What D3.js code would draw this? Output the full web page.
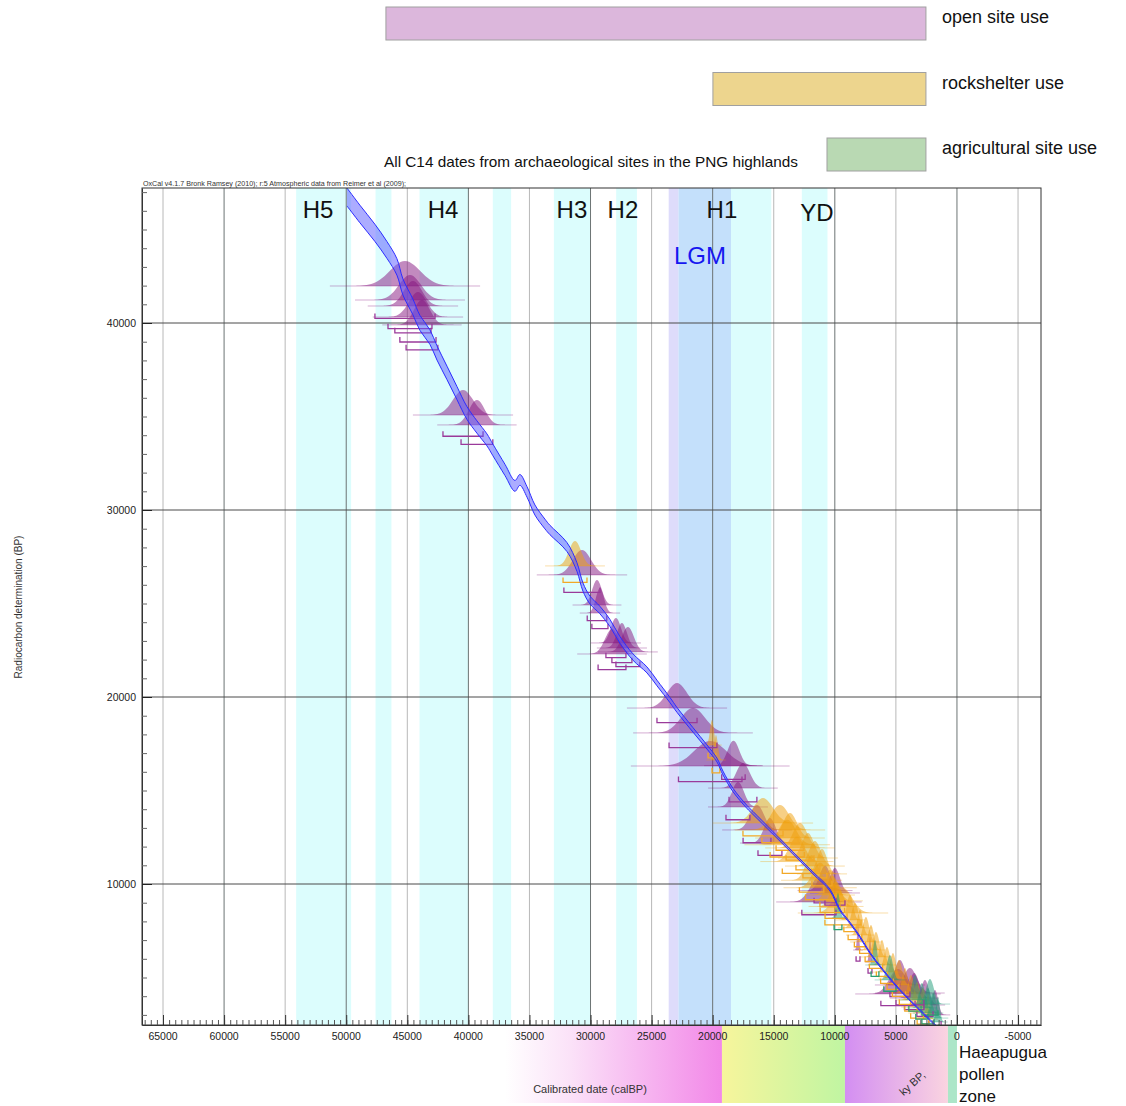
<!DOCTYPE html>
<html>
<head>
<meta charset="utf-8">
<script src="https://cdn.jsdelivr.net/npm/d3@7"></script>
<style>
  body { margin: 0; background: #fff; }
  svg { display: block; font-family: "Liberation Sans", Arial, sans-serif; }
</style>
</head>
<body>
<svg id="chart" width="1126" height="1106"></svg>
<script>
// calibration curve (cal BP, 14C BP, +/- error)
var curveCal = [49940, 48880, 47650, 46670, 45850, 45360, 44540, 43960, 43150, 42570, 41750, 40940, 40120, 39300, 38480, 37990, 37000, 36190, 35780, 35200, 34550, 33730, 33320, 31930, 31110, 30620, 30050, 29230, 28410, 27590, 26530, 25380, 24560, 23500, 22920, 21610, 20470, 19650, 19160, 18340, 17190, 16700, 15060, 13430, 11790, 10400, 9580, 8760, 7940, 7120, 6060, 4670, 3280, 2210, 1720];
var curveC14 = [46740, 45830, 44820, 43910, 43000, 41930, 40860, 40000, 39250, 38400, 37330, 36260, 35190, 34440, 33750, 33210, 32140, 31290, 31610, 30970, 30000, 29250, 28930, 28020, 26950, 25880, 25190, 24650, 23960, 23050, 22140, 21450, 20750, 19840, 19310, 18240, 17330, 16630, 15940, 15030, 14120, 13800, 12730, 11660, 10590, 9680, 8610, 7920, 7170, 6310, 5400, 4330, 3420, 2730, 2410];
var curveErr = [480, 470, 460, 450, 440, 430, 420, 400, 390, 380, 360, 350, 340, 330, 320, 310, 300, 290, 290, 280, 270, 260, 250, 240, 230, 220, 210, 200, 190, 180, 170, 160, 150, 140, 130, 120, 110, 100, 100, 90, 80, 80, 70, 60, 55, 50, 45, 40, 40, 35, 35, 30, 30, 30, 30];

// dates: [14C BP, error, calibrated centre, calibrated spread]
var openDates = [
  [41980, 1200, 45190, 1230], [41230, 1000, 44780, 900], [40910, 900, 44540, 740],
  [40320, 800, 44130, 740], [39900, 800, 43800, 650],
  [35080, 600, 40440, 820], [34550, 500, 39300, 650],
  [26530, 400, 30700, 740], [24920, 300, 29470, 400], [24490, 300, 29230, 330],
  [22890, 250, 27920, 410], [22620, 250, 27430, 410], [22410, 250, 26940, 490], [22300, 300, 28240, 570],
  [19410, 250, 22920, 820], [18080, 250, 21610, 980], [16310, 300, 20200, 1300], [16330, 200, 18300, 480],
  [15130, 200, 17520, 570], [14120, 150, 17930, 490], [12890, 150, 16370, 570], [12190, 120, 15310, 490],
  [9520, 120, 9990, 410], [9650, 120, 10800, 450], [9040, 150, 11300, 700], [6470, 60, 8100, 80], [5830, 60, 7120, 80],
  [4600, 80, 4670, 410], [4170, 100, 3850, 570], [4120, 90, 4830, 700], [3900, 80, 3500, 400],
  [3530, 70, 2620, 330], [3000, 60, 1800, 250]
];
var rockDates = [
  [27010, 350, 31270, 490], [17430, 150, 20060, 160], [16630, 150, 19730, 160],
  [13260, 150, 15880, 820], [12890, 150, 14490, 740], [12460, 120, 13670, 570], [12100, 120, 13900, 700],
  [11930, 120, 12850, 570], [11390, 100, 12200, 490], [11200, 100, 13100, 600], [10960, 100, 11630, 490],
  [10540, 100, 11050, 410], [10200, 100, 11900, 500], [9800, 100, 11200, 600], [9410, 100, 10400, 410],
  [9100, 100, 10200, 500], [8800, 100, 9900, 450],
  [8450, 100, 9330, 740], [8080, 90, 8760, 250], [7650, 90, 8350, 280], [7270, 90, 7940, 230],
  [6900, 80, 7450, 260], [6470, 80, 7040, 240], [6100, 80, 6630, 270], [5670, 80, 6140, 230],
  [5290, 70, 5730, 260], [4970, 70, 5240, 240], [4600, 70, 4750, 270], [4170, 70, 4260, 230],
  [3800, 60, 3770, 250], [3420, 60, 3270, 260], [3100, 60, 2780, 240], [2780, 60, 2370, 160]
];
var agriDates = [
  [8180, 80, 9740, 160], [5670, 70, 6710, 160], [4870, 70, 5490, 250], [3800, 60, 3440, 250],
  [3580, 60, 2210, 330], [3370, 60, 2870, 250], [3100, 50, 2370, 250], [2830, 50, 1960, 250], [2620, 50, 1560, 160]
];

// climate event bands (cal BP)
var bandFrom = [54100, 47600, 44000, 38000, 33000, 27900, 23600, 22800, 18500, 12700];
var bandTo   = [49600, 46300, 40000, 36500, 30000, 26200, 22800, 18500, 15200, 10600];
var bandKind = ["cyan", "cyan", "cyan", "cyan", "cyan", "cyan", "lav", "lgm", "cyan", "cyan"];
var eventNames = ["H5", "H4", "H3", "H2", "H1", "YD"];
var eventCal   = [52300, 42080, 31520, 27350, 19240, 11460];

// site use periods (cal BP)
var useNames = ["open site use", "rockshelter use", "agricultural site use"];
var useFrom  = [46750, 19980, 10640];
var useTo    = [2540, 2540, 2540];

// Haeapugua pollen zones (cal BP)
var zoneFrom = [37000, 19240, 9170, 740];
var zoneTo   = [19240, 9170, 740, 0];

var xTicks = [65000, 60000, 55000, 50000, 45000, 40000, 35000, 30000, 25000, 20000, 15000, 10000, 5000, 0, -5000];
var yTicks = [10000, 20000, 30000, 40000];

var svg = d3.select("#chart");
var L = 142, R = 1041, T = 188, B = 1025;
var x = d3.scaleLinear().domain([66720, -6880]).range([L, R]);
var y = d3.scaleLinear().domain([2460, 47220]).range([B, T]);

var bandColor = { cyan: "#dcfdfd", lav: "#dedcfb", lgm: "#c4e0fb" };
var typeColor = { open: "#86157f", rock: "#efa00c", agri: "#1d9c78" };
var brColor = { open: "#9a3a9a", rock: "#f2a826", agri: "#2a9f72" };
var useColor = ["#dcb7dc", "#edd58e", "#b9d9b3"];

var defs = svg.append("defs");
defs.append("clipPath").attr("id", "plotclip")
  .append("rect").attr("x", L).attr("y", T).attr("width", R - L).attr("height", B - T);

// ---- legend bars of site use ----
useNames.forEach(function (n, i) {
  var yy = 7 + i * 65.5;
  svg.append("rect")
    .attr("x", x(useFrom[i])).attr("y", yy)
    .attr("width", x(useTo[i]) - x(useFrom[i])).attr("height", 33)
    .attr("fill", useColor[i]).attr("stroke", "#a0a0a0");
  svg.append("text").attr("x", 942).attr("y", yy + 16).attr("font-size", 18)
    .attr("fill", "#111").text(n);
});

svg.append("text").attr("x", 384).attr("y", 167).attr("font-size", 14.5)
  .attr("fill", "#111").attr("textLength", 414).attr("lengthAdjust", "spacingAndGlyphs")
  .text("All C14 dates from archaeological sites in the PNG highlands");

svg.append("text").attr("x", 143).attr("y", 186).attr("font-size", 6.4).attr("fill", "#333")
  .attr("textLength", 263).attr("lengthAdjust", "spacingAndGlyphs")
  .text("OxCal v4.1.7 Bronk Ramsey (2010); r:5 Atmospheric data from Reimer et al (2009);");

var plot = svg.append("g").attr("clip-path", "url(#plotclip)");

// ---- bands ----
plot.selectAll("rect.band")
  .data(bandFrom.map(function (f, i) { return { from: f, to: bandTo[i], kind: bandKind[i] }; }))
  .enter().append("rect").attr("class", "band")
  .attr("x", function (d) { return x(d.from); })
  .attr("width", function (d) { return x(d.to) - x(d.from); })
  .attr("y", T).attr("height", B - T)
  .attr("fill", function (d) { return bandColor[d.kind]; });

// ---- grid ----
plot.selectAll("line.vg").data(xTicks).enter().append("line")
  .attr("x1", function (d) { return x(d); }).attr("x2", function (d) { return x(d); })
  .attr("y1", T).attr("y2", B)
  .attr("stroke", function (d) { return d % 10000 === 0 ? "#6c7474" : "#b8b8b8"; })
  .attr("stroke-width", 1);
plot.selectAll("line.hg").data(yTicks).enter().append("line")
  .attr("x1", L).attr("x2", R)
  .attr("y1", function (d) { return y(d); }).attr("y2", function (d) { return y(d); })
  .attr("stroke", "#4a4a4a").attr("stroke-width", 1);

// event labels
eventNames.forEach(function (n, i) {
  svg.append("text").attr("x", x(eventCal[i])).attr("y", n === "YD" ? 221 : 218)
    .attr("text-anchor", "middle").attr("font-size", 24).attr("fill", "#111").text(n);
});
svg.append("text").attr("x", x(21040)).attr("y", 264).attr("text-anchor", "middle")
  .attr("font-size", 24).attr("fill", "#1616f0").text("LGM");

// ---- date distributions ----
var H = 25;
var zs = d3.range(-4.5, 4.51, 0.15);
var distArea = d3.area()
  .x(function (p) { return x(p.cal); })
  .y0(function (p) { return y(p.c14); })
  .y1(function (p) { return y(p.c14) - H * p.g; });

function drawDates(list, type) {
  var g = plot.append("g");
  list.forEach(function (d) {
    var pts = zs.map(function (z) { return { cal: d[2] + z * d[3], c14: d[0], g: Math.exp(-0.5 * z * z) }; });
    g.append("line")
      .attr("x1", x(d[2] + 5 * d[3])).attr("x2", x(d[2] - 5 * d[3]))
      .attr("y1", y(d[0])).attr("y2", y(d[0]))
      .attr("stroke", typeColor[type]).attr("stroke-opacity", 0.35).attr("stroke-width", 1);
    g.append("path").attr("d", distArea(pts))
      .attr("fill", typeColor[type]).attr("fill-opacity", 0.5);
  });
}
function drawBrackets(list, type) {
  var g = plot.append("g");
  list.forEach(function (d) {
    var by = y(d[0] - d[1]) + 10;
    var x1 = x(d[2] + 2 * d[3]), x2 = x(d[2] - 2 * d[3]);
    g.append("path")
      .attr("d", "M" + x1 + "," + (by - 5) + "V" + by + "H" + x2 + "V" + (by - 5))
      .attr("fill", "none").attr("stroke", brColor[type]).attr("stroke-width", 1.3);
  });
}
drawDates(openDates, "open");
drawDates(rockDates, "rock");
drawDates(agriDates, "agri");
drawBrackets(openDates, "open");
drawBrackets(rockDates, "rock");
drawBrackets(agriDates, "agri");

// ---- calibration curve ----
var curve = curveCal.map(function (c, i) { return { cal: c, c14: curveC14[i], err: curveErr[i] }; });
plot.append("path")
  .attr("d", d3.area()
    .curve(d3.curveCatmullRom)
    .x(function (d) { return x(d.cal); })
    .y0(function (d) { return y(d.c14 - d.err); })
    .y1(function (d) { return y(d.c14 + d.err); })(curve))
  .attr("fill", "#5a5aff").attr("fill-opacity", 0.5);
[-1, 1].forEach(function (s) {
  plot.append("path")
    .attr("d", d3.line()
      .curve(d3.curveCatmullRom)
      .x(function (d) { return x(d.cal); })
      .y(function (d) { return y(d.c14 + s * d.err); })(curve))
    .attr("fill", "none").attr("stroke", "#2c2cff").attr("stroke-width", 1);
});

// ---- frame and axes ----
svg.append("rect").attr("x", L).attr("y", T).attr("width", R - L).attr("height", B - T)
  .attr("fill", "none").attr("stroke", "#333");

var xMinor = d3.range(66500, -6880, -500);
svg.append("g").attr("transform", "translate(0," + B + ")")
  .call(d3.axisBottom(x).tickValues(xMinor).tickSize(-5).tickSizeOuter(0).tickFormat(""))
  .call(function (g) { g.selectAll("line").attr("stroke", "#555"); g.select(".domain").attr("stroke", "#333"); });
svg.append("g").attr("transform", "translate(0," + B + ")")
  .call(d3.axisBottom(x).tickValues(xTicks).tickSize(-10).tickSizeOuter(0).tickFormat(""))
  .call(function (g) {
    g.select(".domain").remove();
    g.selectAll("line").attr("stroke", "#333");
  });

var yMinor = d3.range(3000, 47220, 1000);
svg.append("g").attr("transform", "translate(" + L + ",0)")
  .call(d3.axisLeft(y).tickValues(yMinor).tickSize(-5).tickSizeOuter(0).tickFormat(""))
  .call(function (g) { g.selectAll("line").attr("stroke", "#666"); g.select(".domain").attr("stroke", "#333"); });
svg.append("g").attr("transform", "translate(" + L + ",0)")
  .call(d3.axisLeft(y).tickValues(yTicks).tickSize(-10).tickSizeOuter(0).tickPadding(6)
    .tickFormat(function (d) { return String(d); }))
  .call(function (g) {
    g.select(".domain").remove();
    g.selectAll("line").attr("stroke", "#222");
    g.selectAll("text").attr("font-size", 10.5).attr("fill", "#222")
      .attr("font-family", "Liberation Sans, Arial, sans-serif");
  });

svg.append("text").attr("transform", "translate(22,607) rotate(-90)")
  .attr("text-anchor", "middle").attr("font-size", 10).attr("fill", "#333")
  .text("Radiocarbon determination (BP)");

// ---- pollen zones ----
var zoneStops = [
  [["0%", "#ffffff"], ["30%", "#fbe2f8"], ["100%", "#f288e8"]],
  [["0%", "#f7f59c"], ["100%", "#c0f5a2"]],
  [["0%", "#d38ef2"], ["100%", "#fad4e0"]],
  [["0%", "#ace6c8"], ["100%", "#ace6c8"]]
];
zoneFrom.forEach(function (f, i) {
  var grad = defs.append("linearGradient").attr("id", "zone" + i)
    .attr("x1", "0%").attr("x2", "100%").attr("y1", "0%").attr("y2", "0%");
  zoneStops[i].forEach(function (s) {
    grad.append("stop").attr("offset", s[0]).attr("stop-color", s[1]);
  });
  svg.append("rect").attr("x", x(f)).attr("y", B + 1)
    .attr("width", x(zoneTo[i]) - x(f)).attr("height", 77)
    .attr("fill", "url(#zone" + i + ")");
});
// x tick labels drawn above the zones
svg.selectAll("text.xl").data(xTicks).enter().append("text").attr("class", "xl")
  .attr("x", function (d) { return x(d); }).attr("y", 1040)
  .attr("text-anchor", "middle").attr("font-size", 10.5).attr("fill", "#222")
  .text(function (d) { return String(d); });

svg.append("text").attr("x", 590).attr("y", 1093).attr("text-anchor", "middle")
  .attr("font-size", 11).attr("fill", "#333").text("Calibrated date (calBP)");
svg.append("text").attr("transform", "translate(926,1076) rotate(-42)")
  .attr("text-anchor", "end").attr("font-size", 11).attr("fill", "#333").text("ky BP,");

["Haeapugua", "pollen", "zone"].forEach(function (t, i) {
  svg.append("text").attr("x", 959).attr("y", 1058 + i * 22)
    .attr("font-size", 17).attr("fill", "#111").text(t);
});
</script>
</body>
</html>
